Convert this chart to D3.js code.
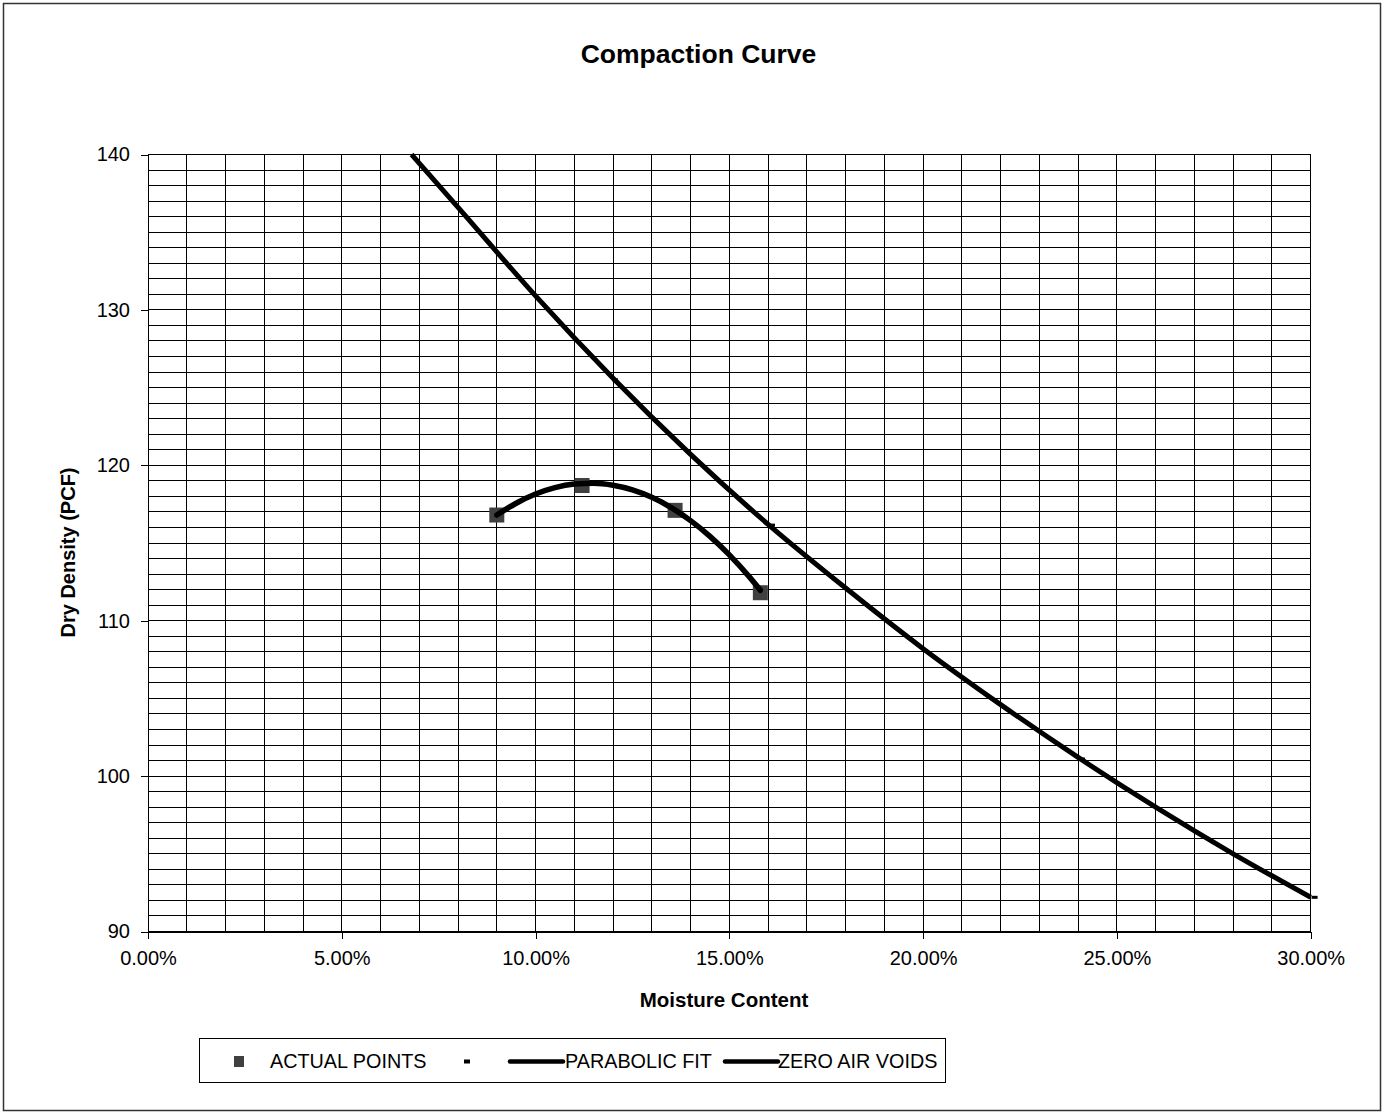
<!DOCTYPE html>
<html lang="en">
<head>
<meta charset="UTF-8">
<title>Compaction Curve</title>
<script src="https://d3js.org/d3.v7.min.js"></script>
<style>
    body {
        margin: 0;
        background: #fff;
    }
    svg {
        display: block;
        font-family: Arial, "Liberation Sans", sans-serif;
    }
    .grid line {
        stroke: #000;
        stroke-width: 1;
        shape-rendering: crispEdges;
    }
    .axis text {
        font-size: 20px;
        fill: #000;
    }
    .axis line, .axis path {
        stroke: #000;
        shape-rendering: crispEdges;
    }
</style>
</head>
<body>
<div id="chart"></div>
<script>
    // actual test points
    const pointMoisture = [0.090, 0.112, 0.136, 0.158];
    const pointDensity = [116.8, 118.7, 117.1, 111.8];

    // parabolic fit
    const fitMoisture = [0.090, 0.095, 0.100, 0.105, 0.110, 0.115, 0.120, 0.125, 0.130, 0.135, 0.140, 0.145, 0.150, 0.155, 0.158];
    const fitDensity = [116.80, 117.56, 118.15, 118.56, 118.79, 118.85, 118.72, 118.42, 117.94, 117.28, 116.44, 115.43, 114.24, 112.87, 111.96];

    // zero air voids line
    const zavMoisture = [0.068, 0.08, 0.10, 0.12, 0.14, 0.16, 0.18, 0.20, 0.22, 0.24, 0.26, 0.28, 0.30];
    const zavDensity = [140.0, 136.6, 130.9, 125.6, 120.7, 116.2, 112.1, 108.2, 104.6, 101.2, 98.0, 95.0, 92.2];

    // "-" series, dash markers
    const dashMoisture = [0.1205, 0.161, 0.241, 0.301];
    const dashDensity = [125.5, 116.15, 101.1, 92.2];

    const xTicks = [0, 0.05, 0.10, 0.15, 0.20, 0.25, 0.30];
    const yTicks = [90, 100, 110, 120, 130, 140];

    const width = 1382, height = 1112;

    const svg = d3.select("#chart").append("svg")
        .attr("width", width)
        .attr("height", height);

    // outer chart border
    svg.append("rect")
        .attr("x", 3.5).attr("y", 3.5)
        .attr("width", 1377).attr("height", 1107)
        .attr("fill", "none")
        .attr("stroke", "#333")
        .attr("stroke-width", 1.5);

    const x = d3.scaleLinear().domain([0, 0.30]).range([148, 1310.7]);
    const y = d3.scaleLinear().domain([90, 140]).range([931.5, 154.5]);

    // grid: every 1% and every 1 pcf
    const grid = svg.append("g").attr("class", "grid");
    grid.selectAll(".v").data(d3.range(0, 31)).join("line")
        .attr("class", "v")
        .attr("x1", d => x(d / 100)).attr("x2", d => x(d / 100))
        .attr("y1", y(90)).attr("y2", y(140));
    grid.selectAll(".h").data(d3.range(90, 141)).join("line")
        .attr("class", "h")
        .attr("x1", x(0)).attr("x2", x(0.30))
        .attr("y1", d => y(d)).attr("y2", d => y(d));

    svg.append("g")
        .attr("class", "axis")
        .attr("transform", `translate(0,${y(90)})`)
        .call(d3.axisBottom(x).tickValues(xTicks).tickFormat(d3.format(".2%")).tickSize(7).tickPadding(12).tickSizeOuter(0));

    svg.append("g")
        .attr("class", "axis")
        .attr("transform", `translate(${x(0)},0)`)
        .call(d3.axisLeft(y).tickValues(yTicks).tickSize(7).tickPadding(11).tickSizeOuter(0));

    svg.selectAll(".axis").attr("font-family", null).attr("font-size", null);

    // titles
    svg.append("text")
        .attr("x", 698.5).attr("y", 63)
        .attr("text-anchor", "middle")
        .attr("font-size", 26.5).attr("font-weight", "bold")
        .text("Compaction Curve");

    svg.append("text")
        .attr("x", 724).attr("y", 1007)
        .attr("text-anchor", "middle")
        .attr("font-size", 20.5).attr("font-weight", "bold")
        .text("Moisture Content");

    svg.append("text")
        .attr("transform", "translate(75,552.5) rotate(-90)")
        .attr("text-anchor", "middle")
        .attr("font-size", 20).attr("font-weight", "bold")
        .text("Dry Density (PCF)");

    const line = d3.line()
        .x(d => x(d[0]))
        .y(d => y(d[1]))
        .curve(d3.curveMonotoneX);

    // zero air voids
    svg.append("path")
        .datum(d3.zip(zavMoisture, zavDensity))
        .attr("d", line)
        .attr("fill", "none")
        .attr("stroke", "#000")
        .attr("stroke-width", 5);

    // dash markers
    svg.selectAll(".dash").data(d3.zip(dashMoisture, dashDensity)).join("rect")
        .attr("class", "dash")
        .attr("x", d => x(d[0]) - 3)
        .attr("y", d => y(d[1]) - 1.5)
        .attr("width", 6).attr("height", 3)
        .attr("fill", "#000");

    // actual points
    svg.selectAll(".pt").data(d3.zip(pointMoisture, pointDensity)).join("rect")
        .attr("class", "pt")
        .attr("x", d => x(d[0]) - 7.5)
        .attr("y", d => y(d[1]) - 7.5)
        .attr("width", 15).attr("height", 15)
        .attr("fill", "#404040");

    // parabolic fit
    svg.append("path")
        .datum(d3.zip(fitMoisture, fitDensity))
        .attr("d", line)
        .attr("fill", "none")
        .attr("stroke", "#000")
        .attr("stroke-width", 5.5)
        .attr("stroke-linecap", "round");

    // legend
    const legend = svg.append("g");
    legend.append("rect")
        .attr("x", 199.5).attr("y", 1038.5)
        .attr("width", 746).attr("height", 44)
        .attr("fill", "#fff")
        .attr("stroke", "#000");
    legend.append("rect")
        .attr("x", 234).attr("y", 1056)
        .attr("width", 10).attr("height", 11)
        .attr("fill", "#404040");
    legend.append("text")
        .attr("x", 270).attr("y", 1068)
        .attr("font-size", 19.8)
        .text("ACTUAL POINTS");
    legend.append("rect")
        .attr("x", 464).attr("y", 1059.5)
        .attr("width", 6).attr("height", 4)
        .attr("fill", "#000");
    legend.append("line")
        .attr("x1", 510).attr("x2", 563)
        .attr("y1", 1061.5).attr("y2", 1061.5)
        .attr("stroke", "#000").attr("stroke-width", 4.5)
        .attr("stroke-linecap", "round");
    legend.append("text")
        .attr("x", 565).attr("y", 1068)
        .attr("font-size", 19.8)
        .text("PARABOLIC FIT");
    legend.append("line")
        .attr("x1", 725).attr("x2", 778)
        .attr("y1", 1061.5).attr("y2", 1061.5)
        .attr("stroke", "#000").attr("stroke-width", 4.5)
        .attr("stroke-linecap", "round");
    legend.append("text")
        .attr("x", 778).attr("y", 1068)
        .attr("font-size", 19.8)
        .text("ZERO AIR VOIDS");
</script>
</body>
</html>
